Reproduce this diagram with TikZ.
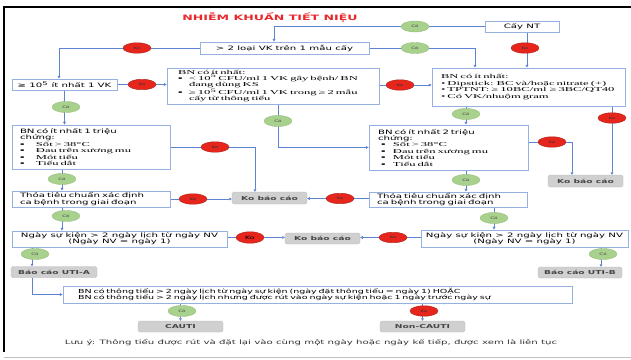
\documentclass[tikz,border=0pt]{standalone}
\usepackage{fontspec}
\setmainfont{DejaVu Sans}
\newfontfamily\sfw[FakeStretch=1.7]{DejaVu Sans}
\newfontfamily\rmw[FakeStretch=2.1]{Liberation Serif}
\usetikzlibrary{arrows.meta,calc,shapes.geometric}
\definecolor{boxc}{RGB}{150,176,224}
\definecolor{arrc}{RGB}{92,132,208}
\definecolor{gfill}{RGB}{169,209,142}
\definecolor{gdraw}{RGB}{150,190,122}
\definecolor{rfill}{RGB}{230,38,28}
\definecolor{rdraw}{RGB}{170,35,25}
\definecolor{grayf}{RGB}{208,208,208}
\definecolor{grayt}{RGB}{70,70,70}
\definecolor{titc}{RGB}{232,40,44}
\pgfdeclarelayer{bg}
\pgfsetlayers{bg,main}
\begin{document}
\begin{tikzpicture}[x=1pt,y=-1pt,
  box/.style={draw=boxc, line width=0.9pt, fill=white, rectangle, inner ysep=0pt, align=left, font=\sfw\fontsize{6}{6.4}\selectfont},
  cbox/.style={box, align=center, inner xsep=0pt},
  gbox/.style={fill=grayf, draw=grayf!88!black, line width=0.3pt, rounded corners=1.5pt, inner sep=0pt, font=\sfw\bfseries\fontsize{5.4}{6}\selectfont, text=grayt, minimum height=11pt},
  yes/.style={ellipse, fill=gfill, draw=gdraw, line width=0.4pt, minimum width=28pt, minimum height=11pt, inner sep=0pt, font=\sfw\fontsize{3.3}{3.5}\selectfont, text=black!75},
  no/.style={ellipse, fill=rfill, draw=rdraw, line width=0.4pt, minimum width=28pt, minimum height=10.5pt, inner sep=0pt, font=\sfw\fontsize{3.3}{3.5}\selectfont, text=black!80},
  arr/.style={draw=arrc, line width=0.8pt, -{Triangle[length=2.6pt,width=2.8pt]}},
]
\useasboundingbox (0,0) rectangle (631,359);
% frame
\draw[line width=2.2pt, black] (3,7) -- (631,7);
\draw[line width=2pt, black] (4,6) -- (4,352);
\draw[line width=0.6pt, black!25] (4,357) -- (631,357);

% title
\node[font=\sfw\bfseries\fontsize{7.4}{8}\selectfont, text=titc] (title) at (270,17) {NHIỄM KHUẨN TIẾT NIỆU};

% boxes
\node[cbox, minimum width=74pt, minimum height=11pt] (cay) at (522,26.5) {Cấy NT};
\node[cbox, minimum width=169pt, minimum height=12pt] (loai) at (284.5,48) {> 2 loại VK trên 1 mẫu cấy};
\node[cbox, minimum width=105pt, minimum height=11pt] (vk5) at (64.5,84.5) {≥ 10\textsuperscript{5} ít nhất 1 VK};
\node[box, inner xsep=11pt, text width=190pt, minimum height=36pt, font=\rmw\fontsize{6}{6.25}\selectfont] (bn1) at (273,86) {BN có ít nhất:\\
\makebox[11pt][l]{▪}< 10\textsuperscript{5} CFU/ml 1 VK gây bệnh/ BN\\
\hspace*{11pt}đang dùng KS\\
\makebox[11pt][l]{▪}≥ 10\textsuperscript{5} CFU/ml 1 VK trong ≥ 2 mẫu\\
\hspace*{11pt}cấy từ thông tiểu};
\node[box, inner xsep=9pt, text width=175pt, minimum height=38pt, font=\rmw\fontsize{6}{6.4}\selectfont] (bn2) at (528.5,87) {BN có ít nhất:\\
• Dipstick: BC và/hoặc nitrate (+)\\
• TPTNT: ≥ 10BC/ml \,≥ 3BC/QT40\\
• Có VK/nhuộm gram};
\node[box, inner xsep=8pt, text width=142pt, minimum height=44pt] (tc1) at (91,147) {BN có ít nhất 1 triệu\\chứng:\\
{\rmw\makebox[16pt][l]{▪}Sốt > 38°C}\\
{\rmw\makebox[16pt][l]{▪}Đau trên xương mu}\\
{\rmw\makebox[16pt][l]{▪}Mót tiểu}\\
{\rmw\makebox[16pt][l]{▪}Tiểu dắt}};
\node[box, inner xsep=9pt, text width=141pt, minimum height=45pt] (tc2) at (448.5,147.5) {BN có ít nhất 2 triệu\\chứng:\\
{\rmw\makebox[15pt][l]{\hspace*{3pt}▪}Sốt > 38°C}\\
{\rmw\makebox[15pt][l]{\hspace*{3pt}▪}Đau trên xương mu}\\
{\rmw\makebox[15pt][l]{\hspace*{3pt}▪}Mót tiểu}\\
{\rmw\makebox[15pt][l]{\hspace*{3pt}▪}Tiểu dắt}};
\node[box, inner xsep=8pt, text width=142pt, minimum height=16pt] (th1) at (91,199) {Thỏa tiêu chuẩn xác định\\ca bệnh trong giai đoạn};
\node[box, inner xsep=8pt, text width=142pt, minimum height=15pt] (th2) at (448,199.5) {Thỏa tiêu chuẩn xác định\\ca bệnh trong giai đoạn};
\node[cbox, minimum width=215pt, minimum height=16pt] (ng1) at (119.5,239) {Ngày sự kiện > 2 ngày lịch từ ngày NV\\(Ngày NV = ngày 1)};
\node[cbox, minimum width=207pt, minimum height=17pt] (ng2) at (524.5,238.5) {Ngày sự kiện > 2 ngày lịch từ ngày NV\\(Ngày NV = ngày 1)};
\node[box, inner xsep=15pt, text width=479pt, minimum height=17pt, font=\sfw\fontsize{5.6}{6.5}\selectfont] (bnt) at (317.5,294.5) {BN có thông tiểu > 2 ngày lịch từ ngày sự kiện (ngày đặt thông tiểu = ngày 1) HOẶC\\BN có thông tiểu > 2 ngày lịch nhưng được rút vào ngày sự kiện hoặc 1 ngày trước ngày sự};

% gray result boxes
\node[gbox, minimum width=75pt, minimum height=12pt] (kob1) at (269.5,198) {Ko báo cáo};
\node[gbox, minimum width=75pt, minimum height=12pt] (kob2) at (585.5,181) {Ko báo cáo};
\node[gbox, minimum width=75pt] (kob3) at (322.5,238.5) {Ko báo cáo};
\node[gbox, minimum width=86pt] (utia) at (54,272) {Báo cáo UTI-A};
\node[gbox, minimum width=84pt] (utib) at (580,272.5) {Báo cáo UTI-B};
\node[gbox, minimum width=85pt] (cauti) at (180.5,326.5) {CAUTI};
\node[gbox, minimum width=85pt] (ncauti) at (422.5,326.5) {Non-CAUTI};

% note
\node[font=\sfw\fontsize{6}{7}\selectfont, text=black!80] (note) at (311,343) {Lưu ý: Thông tiểu được rút và đặt lại vào cùng một ngày hoặc ngày kế tiếp, được xem là liên tục};

% decisions
\node[yes] (c1) at (415,26.5) {Có};
\node[yes] (c2) at (415,48) {Có};
\node[no] (k1) at (525,48) {Ko};
\node[no] (k2) at (137,48) {Ko};
\node[no] (k3) at (142,84.5) {Ko};
\node[no] (k4) at (400,85) {Ko};
\node[yes] (c3) at (66,107) {Có};
\node[yes] (c4) at (278,121) {Có};
\node[yes] (c5) at (466,114) {Có};
\node[no] (k5) at (612,118) {Ko};
\node[no] (k6) at (215,147) {Ko};
\node[no] (k7) at (552,142) {Ko};
\node[yes] (c6) at (62,179) {Có};
\node[no] (k8) at (193,199) {Ko};
\node[yes] (c7) at (466,180) {Có};
\node[no] (k9) at (340,198.5) {Ko};
\node[yes] (c8) at (66,216) {Có};
\node[yes] (c9) at (494,218) {Có};
\node[no, minimum height=11.5pt, font=\sfw\fontsize{4.6}{5}\selectfont, text=black] (k10) at (250,237.5) {Ko};
\node[no] (k11) at (393,237.5) {Ko};
\node[yes] (c10) at (35,254) {Có};
\node[yes] (c11) at (603,254) {Có};
\node[yes] (c12) at (182,311) {Có};
\node[no] (k12) at (424,311) {Ko};

% junctions
\coordinate (j0) at (274,26.5);
\coordinate (j3) at (475,48);
\coordinate (j4) at (59,48);
\coordinate (j5) at (527,48);
\coordinate (j6) at (278,147.5);
\coordinate (j1) at (255,147);
\coordinate (j2) at (572,142);
\coordinate (ja) at (32,254);
\coordinate (jb) at (601,254);

\begin{pgfonlayer}{bg}
\draw[arr] (cay.west) -- (j0) -- (j0 |- loai.north);
\draw[arr] (loai.east) -- (j3) -- (j3 |- bn2.north);
\draw[arr] (loai.west) -- (j4) -- (j4 |- vk5.north);
\draw[arr] (cay.south -| j5) -- (j5 |- bn2.north);
\draw[arr] (vk5.east) -- (vk5.east -| bn1.west);
\draw[arr] (bn1.east |- k4) -- (k4 -| bn2.west);
\draw[arr] (vk5.south) -- (vk5.south |- tc1.north);
\draw[arr] (bn1.south -| j6) -- (j6) -- (j6 -| tc2.west);
\draw[arr] (bn2.south -| c5) -- (c5 |- tc2.north);
\draw[arr] (bn2.south -| k5) -- (k5 |- kob2.north);
\draw[arr] (tc1.east |- j1) -- (j1) -- (j1 |- kob1.north);
\draw[arr] (tc2.east |- j2) -- (j2) -- (j2 |- kob2.north);
\draw[arr] (tc1.south -| c6) -- (c6 |- th1.north);
\draw[arr] (th1.east |- k8) -- (k8 -| kob1.west);
\draw[arr] (th2.west |- k9) -- (k9 -| kob1.east);
\draw[arr] (tc2.south -| c7) -- (c7 |- th2.north);
\draw[arr] (th1.south -| c6) -- (c6 |- ng1.north);
\draw[arr] (th2.south -| c9) -- (c9 |- ng2.north);
\draw[arr] (ng1.east |- k10) -- (k10 -| kob3.west);
\draw[arr] (ng2.west |- k11) -- (k11 -| kob3.east);
\draw[arr] (ng1.south -| ja) -- (ja |- utia.north);
\draw[arr] (ng2.south -| jb) -- (jb |- utib.north);
\draw[arr] (utia.south -| ja) -- (ja |- bnt.west) -- (bnt.west);
\draw[arr] (bnt.south -| cauti.north) -- (cauti.north);
\draw[arr] (bnt.south -| ncauti.north) -- (ncauti.north);
\end{pgfonlayer}
\end{tikzpicture}
\end{document}
